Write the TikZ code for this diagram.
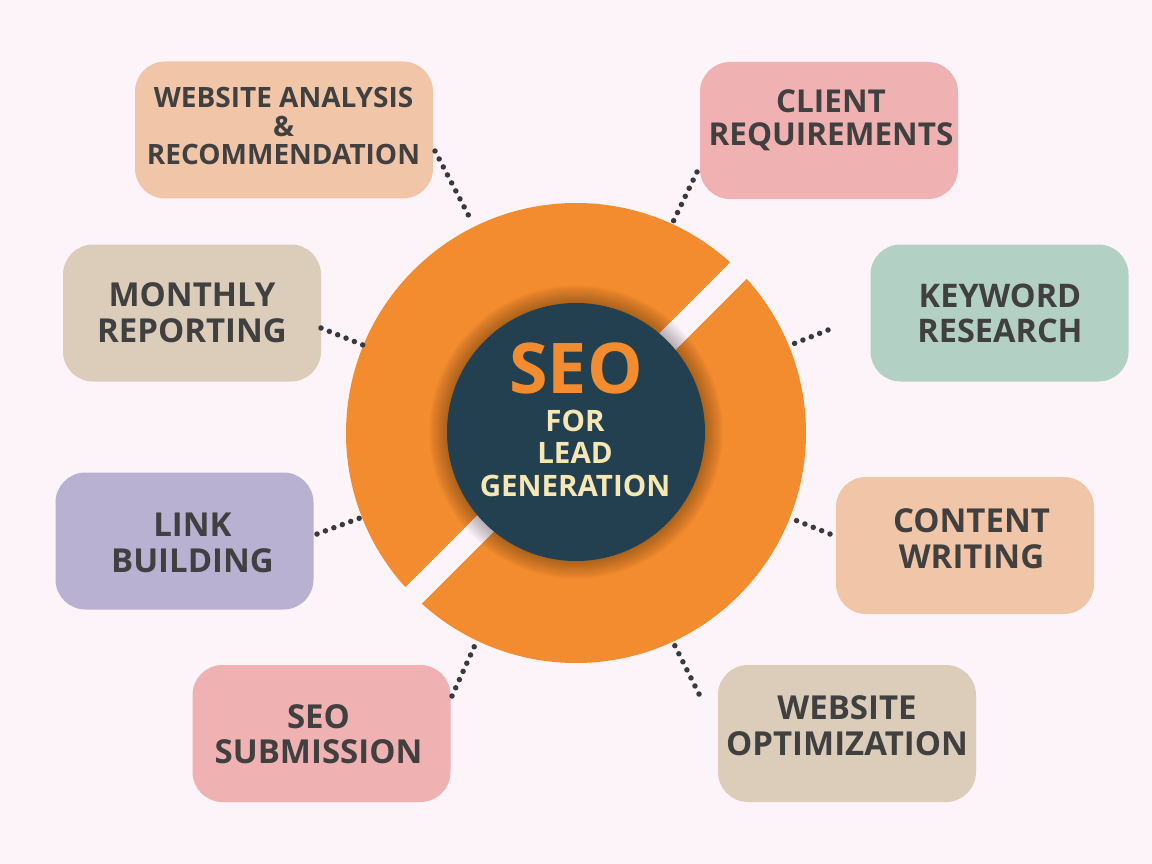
\documentclass[tikz,border=0pt]{standalone}
\usepackage{fontspec}
\setmainfont{Open Sans}
\definecolor{bgc}{RGB}{253,244,249}
\definecolor{orng}{RGB}{242,140,46}
\definecolor{teal}{RGB}{34,64,79}
\definecolor{cream}{RGB}{246,231,180}
\definecolor{txt}{RGB}{64,64,64}
\definecolor{dotc}{RGB}{58,58,62}
\definecolor{peach}{RGB}{241,197,168}
\definecolor{pinkb}{RGB}{239,177,177}
\definecolor{mint}{RGB}{179,208,197}
\definecolor{tan}{RGB}{220,204,186}
\definecolor{lav}{RGB}{184,177,209}
\tikzset{
  boxst/.style={rounded corners=30pt, inner sep=0pt, minimum width=258pt, minimum height=137pt},
  lbl/.style={text=txt, align=center, inner sep=0pt, font=\bfseries\fontsize{33}{36}\selectfont},
  dotline/.style={dotc, line width=5.5pt, line cap=round, dash pattern=on 0pt off 9pt},
}
\begin{document}
\begin{tikzpicture}[x=1pt,y=-1pt]
\fill[bgc] (0,0) rectangle (1152,864);
\useasboundingbox (0,0) rectangle (1152,864);
% ring
\fill[orng] (576,433) circle (230pt);
\begin{scope}
\clip (576,433) circle (231pt);
\draw[bgc, line width=23pt] (406,603) -- (746,263);
\end{scope}
% shadow
\foreach \r in {1,...,18}{\fill[black, opacity=0.014] (576,432) circle ({(129+\r)*1pt});}
\node[circle, fill=teal, minimum size=258pt, inner sep=0pt] (core) at (576,432) {};
\node[text=orng, inner sep=0pt, font=\bfseries\fontsize{70}{72}\selectfont] (seo) at (576,368.5) {SEO};
\node[text=cream, align=center, inner sep=0pt, font=\bfseries\fontsize{29.5}{32.5}\selectfont] (sub) at (575,453) {FOR\\LEAD\\GENERATION};
% boxes
\node[boxst, fill=peach, minimum width=298pt] (b1) at (284,130) {};
\node[boxst, fill=pinkb] (b2) at (829,130.5) {};
\node[boxst, fill=mint] (b3) at (999.5,313) {};
\node[boxst, fill=tan] (b4) at (192,313) {};
\node[boxst, fill=lav] (b5) at (184.5,541) {};
\node[boxst, fill=peach] (b6) at (965,545.5) {};
\node[boxst, fill=pinkb] (b7) at (321.5,733.5) {};
\node[boxst, fill=tan] (b8) at (847,733.5) {};
% labels
\node[lbl, font=\bfseries\fontsize{28}{28.5}\selectfont] (t1) at (283.5,126) {WEBSITE ANALYSIS\\\&\\RECOMMENDATION};
\node[lbl, font=\bfseries\fontsize{31.5}{33}\selectfont] (t2) at (831,120) {CLIENT\\REQUIREMENTS};
\node[lbl, font=\bfseries\fontsize{32.5}{35}\selectfont] (t3) at (1000,313.5) {KEYWORD\\RESEARCH};
\node[lbl] (t4) at (192,313) {MONTHLY\\REPORTING};
\node[lbl] (t5) at (192.5,542.5) {LINK\\BUILDING};
\node[lbl] (t6) at (971.5,539) {CONTENT\\WRITING};
\node[lbl, font=\bfseries\fontsize{33}{35}\selectfont] (t7) at (318.5,734) {SEO\\SUBMISSION};
\node[lbl] (t8) at (847,725.5) {WEBSITE\\OPTIMIZATION};
% connector ends
\coordinate (c1a) at (435,151); \coordinate (c1b) at (472,222);
\coordinate (c2a) at (697,172); \coordinate (c2b) at (673,222);
\coordinate (c3a) at (828,330); \coordinate (c3b) at (793,344);
\coordinate (c4a) at (321,328); \coordinate (c4b) at (363,345);
\coordinate (c5a) at (317,534); \coordinate (c5b) at (360,518);
\coordinate (c6a) at (830,534); \coordinate (c6b) at (790,518);
\coordinate (c7a) at (452,696); \coordinate (c7b) at (475,645);
\coordinate (c8a) at (699,694); \coordinate (c8b) at (674,644);
\foreach \i in {1,...,8}{\draw[dotline] (c\i a) -- (c\i b);}
\end{tikzpicture}
\end{document}
